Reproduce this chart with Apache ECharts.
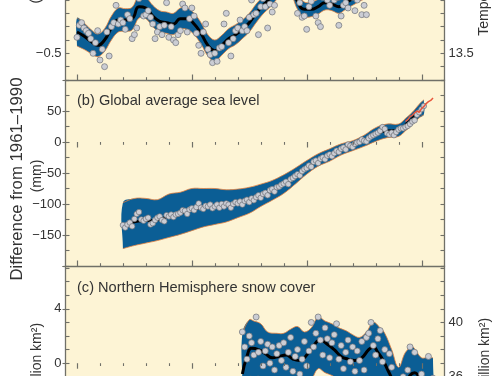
<!DOCTYPE html>
<html>
<head>
<meta charset="utf-8">
<script src="https://cdn.jsdelivr.net/npm/echarts@6/dist/echarts.min.js"></script>
<style>
html, body { margin: 0; padding: 0; background: #fff; }
#chart { width: 500px; height: 376px; }
</style>
</head>
<body>
<div id="chart"></div>
<script>
// (a) global mean temperature, difference from 1961-1990 (°C), annual from 1850
var tempFirstYear = 1850;
var tempValues = [
  -0.38,-0.29,-0.27,-0.31,-0.33,-0.35,-0.39,-0.50,-0.42,-0.33,
  -0.55,-0.47,-0.60,-0.34,-0.52,-0.30,-0.27,-0.14,-0.28,-0.25,
  -0.27,-0.32,-0.21,-0.24,-0.39,-0.36,-0.31,-0.09,-0.03,-0.22,
  -0.21,-0.18,-0.23,-0.28,-0.39,-0.34,-0.30,-0.36,-0.29,-0.12,
  -0.38,-0.30,-0.40,-0.42,-0.36,-0.33,-0.13,-0.16,-0.34,-0.24,
  -0.16,-0.22,-0.35,-0.44,-0.50,-0.34,-0.28,-0.47,-0.51,-0.57,
  -0.50,-0.56,-0.46,-0.45,-0.28,-0.20,-0.42,-0.52,-0.39,-0.33,
  -0.31,-0.25,-0.33,-0.30,-0.33,-0.23,-0.10,-0.21,-0.20,-0.36,
  -0.15,-0.09,-0.15,-0.31,-0.13,-0.19,-0.14,-0.03,0.00,-0.04,
  0.02,0.05,-0.02,0.00,0.08,-0.04,-0.20,-0.12,-0.23,-0.22,
  -0.32,-0.15,-0.11,-0.05,-0.22,-0.27,-0.30,-0.08,-0.04,-0.10,
  -0.14,-0.06,-0.10,-0.08,-0.29,-0.22,-0.14,-0.12,-0.16,-0.03,
  -0.08,-0.18,-0.10,0.02,-0.21,-0.14,-0.21,0.05,-0.03,0.06,
  0.14,0.20,0.04,0.22,0.05,0.02,0.08,0.23,0.28,0.16,
  0.33,0.29,0.12,0.13,0.21,0.33,0.22,0.36,0.53,0.28,
  0.28,0.43,0.50,0.50,0.44,0.55
];
// decadal smoothed curve and its uncertainty half-width
var tempSmoothYears = [1850,1853,1856,1859,1862,1865,1868,1871,1874,1877,1880,1883,1886,1889,1892,1895,1898,
  1901,1904,1907,1910,1913,1916,1919,1922,1925,1928,1931,1934,1937,1940,1943,1946,1949,1952,1955,1958,
  1961,1964,1967,1970,1973,1976,1979,1982,1985,1988,1991,1994,1997,2000,2003,2005];
var tempSmooth = [-0.34,-0.37,-0.41,-0.44,-0.40,-0.31,-0.25,-0.25,-0.24,-0.15,-0.16,-0.22,-0.26,-0.27,-0.28,-0.24,-0.24,
  -0.28,-0.35,-0.44,-0.48,-0.44,-0.39,-0.36,-0.32,-0.27,-0.20,-0.14,-0.09,-0.03,0.02,0.01,-0.11,-0.17,-0.17,-0.15,-0.12,
  -0.13,-0.15,-0.12,-0.09,-0.06,-0.03,0.05,0.12,0.16,0.22,0.27,0.30,0.37,0.42,0.48,0.52];
var tempHalf = [0.105,0.10,0.09,0.085,0.085,0.09,0.09,0.085,0.085,0.085,0.08,0.08,0.08,0.08,0.08,0.08,0.08,
  0.08,0.08,0.08,0.08,0.075,0.075,0.075,0.07,0.07,0.07,0.065,0.065,0.065,0.065,0.065,0.06,0.055,0.055,0.055,0.055,
  0.05,0.05,0.05,0.05,0.05,0.05,0.05,0.05,0.05,0.05,0.05,0.05,0.05,0.05,0.05,0.05];

// (b) global average sea level, difference from 1961-1990 (mm), annual from 1870
var seaFirstYear = 1870;
var seaValues = [
  -134,-138,-133,-130,-136,-124,-116,-113,-125,-127,
  -124,-122,-133,-131,-126,-122,-120,-126,-128,-118,
  -120,-117,-121,-117,-116,-114,-110,-111,-116,-109,
  -107,-110,-105,-99,-106,-108,-103,-104,-101,-107,
  -104,-101,-106,-100,-104,-99,-101,-106,-100,-97,
  -99,-96,-101,-95,-93,-97,-91,-94,-89,-86,
  -90,-84,-82,-86,-78,-76,-80,-73,-72,-69,
  -67,-64,-68,-60,-58,-55,-52,-54,-47,-44,
  -42,-38,-40,-32,-30,-34,-27,-25,-28,-22,
  -20,-23,-18,-14,-16,-11,-9,-12,-4,-6,
  -8,-3,-1,0,4,2,1,6,9,11,
  13,15,18,24,21,14,12,15,11,16,
  20,22,22,24,26,29,33,35,44,48,
  53,58
];
var seaSmoothYears = [1870,1875,1880,1885,1890,1895,1900,1905,1910,1915,1920,1925,1930,1935,1940,1945,
  1950,1955,1960,1965,1970,1975,1980,1985,1990,1993,1996,1999,2001];
var seaSmooth = [-135,-129,-127,-126,-119,-115,-109,-106,-104,-103,-99,-94,-86,-78,-68,-55,
  -41,-29,-21,-12,-6,2,12,18,19,28,38,50,56];
var seaHalf = [37,38,36,33,35,34,34,31,29,26,23,21,18,16,15,13,
  11,10,10,9,8,9,11,11,10,10,10,11,12];
// satellite altimetry
var satYears = [1993,1994,1995,1996,1997,1998,1999,2000,2001,2002,2003,2004,2005];
var satValues = [33,36,41,43,47,50,48,54,57,62,65,67,71];

// (c) NH snow cover, difference from 1961-1990 (million km2), annual from 1922
var snowFirstYear = 1922;
var snowValues = [
  2.3,1.2,0.3,2.0,1.5,0.6,3.4,0.8,
  1.6,-0.2,0.9,1.4,0.0,1.2,-0.5,0.7,1.3,0.2,
  1.5,-0.3,0.8,1.9,-0.6,0.5,1.0,-0.8,0.3,1.6,
  -0.2,0.9,3.0,1.2,2.2,3.4,1.7,0.6,2.6,1.8,
  0.4,1.5,2.1,2.9,0.3,1.3,-0.4,0.8,1.7,0.1,
  1.2,-0.6,0.9,0.2,1.6,-0.5,1.9,2.2,3.0,1.3,
  0.6,1.8,2.4,0.1,1.0,-1.2,0.7,-0.3,-1.9,-2.6,
  -1.4,-2.8,-1.0,-2.2,-0.5,1.2,-1.7,0.8,-2.4,-1.3,
  -0.8,-2.0,-1.6,0.5,-2.3,-1.1
];
var snowSmoothYears = [1922,1924,1926,1929,1932,1935,1938,1941,1944,1947,1950,1953,1956,1959,1962,1965,1968,
  1971,1974,1977,1979,1981,1983,1985,1987,1989,1991,1993,1995,1997,1999,2001,2003,2005];
var snowSmooth = [-0.8,0.5,1.1,1.0,0.7,0.4,0.5,0.6,0.3,0.2,0.6,1.3,1.7,1.4,1.0,0.5,0.3,
  0.2,0.4,1.0,1.2,0.8,0.3,-0.4,-1.1,-1.9,-2.1,-1.6,-0.9,-0.7,-1.0,-1.4,-1.5,-1.5];
var snowBandYears = [1922,1925,1927,1930,1933,1937,1940,1943,1946,1949,1952,1955,1958,1961,1964,1967,1970,
  1973,1976,1979,1982,1984,1987,1990,1993,1996,1998,2000,2002,2005];
var snowBandHi = [2.2,3.2,3.1,2.9,2.3,2.2,2.2,2.5,2.7,2.3,2.6,3.4,3.1,2.9,2.6,2.4,2.1,
  1.9,2.3,3.0,2.6,2.2,1.0,-0.3,0.8,1.2,0.8,0.4,0.4,0.4];
var snowBandLo = [-1.6,-1.0,-1.0,-1.0,-1.5,-1.6,-1.6,-1.3,-1.1,-1.5,-1.2,-0.4,-0.7,-0.9,-1.2,-1.4,-1.7,
  -1.9,-1.5,-1.0,-1.2,-1.6,-2.8,-4.1,-3.0,-2.6,-3.0,-3.4,-3.4,-3.4];

var bgColor = '#fdf4d5';
var bandColor = '#0b5e95';
var edgeColor = '#e3803f';
var frameColor = '#707068';
var textColor = '#333333';
var dotFill = '#cbcdd4';
var dotLine = '#6e7179';
var fontFamily = "'Liberation Sans', Arial, Helvetica, sans-serif";
var BAND_SMOOTH = 0.4;

function pairs(xs, ys) {
  return xs.map(function (x, i) { return [x, ys[i]]; });
}
function annual(first, vals) {
  return vals.map(function (v, i) { return [first + i, v]; });
}
function minus(s) { return String(s).replace('-', '\u2212'); }
function isMult(v, m) { var q = v / m; return Math.abs(q - Math.round(q)) < 1e-6; }

var gridBase = { left: 65.5, right: 55.5, show: true, backgroundColor: bgColor, borderWidth: 0,
  containLabel: false, outerBoundsMode: 'none' };
var tickBase = { left: 77, width: 345, show: false, containLabel: false, outerBoundsMode: 'none' };
var panelTops = [-80, 80, 266];
var panelHeights = [160, 186, 151.6];

var grids = [];
panelTops.forEach(function (t, i) {
  grids.push(Object.assign({}, gridBase, { top: t, height: panelHeights[i] }));
});
panelTops.forEach(function (t, i) {
  grids.push(Object.assign({}, tickBase, { top: t, height: panelHeights[i] }));
});

function mainX(g, showLine) {
  return { type: 'value', gridIndex: g, min: 1845, max: 2010, position: 'bottom', z: 5,
    axisLine: { show: showLine, onZero: false, lineStyle: { color: frameColor, width: 1.3 } },
    axisTick: { show: false }, axisLabel: { show: false }, splitLine: { show: false } };
}
function tickX(g, pos) {
  return { type: 'value', gridIndex: g, min: 1850, max: 2000, interval: 50, position: pos, z: 6,
    axisLine: { show: false },
    axisTick: { show: true, inside: true, length: 5.5, lineStyle: { color: frameColor, width: 1.2 } },
    minorTick: { show: true, splitNumber: 5, length: 2.8, lineStyle: { color: frameColor, width: 1.1 } },
    axisLabel: { show: false }, splitLine: { show: false } };
}
function yAx(g, pos, min, max, step, fmt) {
  return { type: 'value', gridIndex: g, position: pos, min: min, max: max, interval: step, z: 5,
    axisLine: { show: true, onZero: false, lineStyle: { color: frameColor, width: 1.3 } },
    axisTick: { show: true, inside: true, length: 4, lineStyle: { color: frameColor, width: 1.1 } },
    axisLabel: { show: !!fmt, formatter: fmt || '', margin: 4, fontSize: 13, color: textColor, fontFamily: fontFamily },
    splitLine: { show: false } };
}
// outward half of the labelled ticks on the left axes (tick grids sit 11.5px right of the frame)
function outY(g, min, max, step) {
  return { type: 'value', gridIndex: g, position: 'left', offset: 11.5, min: min, max: max, interval: step, z: 5,
    axisLine: { show: false },
    axisTick: { show: true, inside: false, length: 3, lineStyle: { color: frameColor, width: 1.1 } },
    axisLabel: { show: false }, splitLine: { show: false } };
}

var xAxes = [
  mainX(0, true), mainX(1, true), mainX(2, false),
  tickX(3, 'bottom'), tickX(4, 'top'), tickX(4, 'bottom'), tickX(5, 'top')
];
var yAxes = [
  yAx(0, 'left', -0.7, 0.5, 0.1, function (v) { return isMult(v, 0.5) ? minus(v.toFixed(1)) : ''; }),
  yAx(0, 'right', 13.3, 14.5, 0.1, function (v) { return isMult(v, 0.5) ? v.toFixed(1) : ''; }),
  yAx(1, 'left', -200, 100, 25, function (v) { return (isMult(v, 50) && v < 100 && v > -200) ? minus(v) : ''; }),
  yAx(1, 'right', -200, 100, 25, null),
  yAx(2, 'left', -4, 7.15, 1, function (v) { return isMult(v, 4) ? minus(Math.round(v)) : ''; }),
  yAx(2, 'right', 33, 44.15, 1, function (v) { return (isMult(v, 4) && v < 44) ? String(Math.round(v)) : ''; }),
  { type: 'value', gridIndex: 3, min: 0, max: 1, show: false },
  outY(4, -200, 100, 50),
  outY(5, -4, 7.15, 4)
];

// uncertainty band: smoothed polygon between lower and upper edges, with thin orange rims
function bandSeries(xi, yi, years, lo, hi) {
  var rows = years.map(function (y, i) { return [y, lo[i], hi[i]]; });
  return {
    type: 'custom', xAxisIndex: xi, yAxisIndex: yi, z: 1, silent: true,
    data: rows, encode: { x: 0, y: [1, 2] },
    renderItem: function (params, api) {
      if (params.dataIndex !== 0) return null;
      var upper = rows.map(function (r) { return api.coord([r[0], r[2]]); });
      var lower = rows.map(function (r) { return api.coord([r[0], r[1]]); });
      var back = lower.slice().reverse();
      // repeat the corner points so the ends stay square
      var ring = upper.concat([upper[upper.length - 1]], back, [back[back.length - 1]]);
      return {
        type: 'group',
        children: [
          { type: 'polygon', shape: { points: ring, smooth: BAND_SMOOTH }, style: { fill: bandColor } },
          { type: 'polyline', shape: { points: upper, smooth: BAND_SMOOTH }, style: { stroke: edgeColor, lineWidth: 0.8, fill: null } },
          { type: 'polyline', shape: { points: lower, smooth: BAND_SMOOTH }, style: { stroke: edgeColor, lineWidth: 0.8, fill: null } }
        ]
      };
    }
  };
}
function smoothSeries(xi, yi, years, vals, w) {
  return { type: 'line', xAxisIndex: xi, yAxisIndex: yi, symbol: 'none', smooth: true, z: 3, silent: true,
    data: pairs(years, vals), lineStyle: { color: '#000', width: w } };
}
function dotSeries(xi, yi, data, size) {
  return { type: 'scatter', xAxisIndex: xi, yAxisIndex: yi, symbol: 'circle', symbolSize: size, z: 4, silent: true,
    data: data, itemStyle: { color: dotFill, borderColor: dotLine, borderWidth: 0.7, opacity: 1 } };
}

var tempLo = tempSmooth.map(function (v, i) { return v - tempHalf[i]; });
var tempHi = tempSmooth.map(function (v, i) { return v + tempHalf[i]; });
var seaLo = seaSmooth.map(function (v, i) { return v - seaHalf[i]; });
var seaHi = seaSmooth.map(function (v, i) { return v + seaHalf[i]; });

var series = [
  bandSeries(0, 0, tempSmoothYears, tempLo, tempHi),
  smoothSeries(0, 0, tempSmoothYears, tempSmooth, 3),
  dotSeries(0, 0, annual(tempFirstYear, tempValues), 6),
  bandSeries(1, 2, seaSmoothYears, seaLo, seaHi),
  smoothSeries(1, 2, seaSmoothYears, seaSmooth, 2.5),
  dotSeries(1, 2, annual(seaFirstYear, seaValues), 5.5),
  { type: 'line', xAxisIndex: 1, yAxisIndex: 2, symbol: 'none', z: 5, silent: true,
    data: pairs(satYears, satValues), lineStyle: { color: '#e8563c', width: 1.5 } },
  bandSeries(2, 4, snowBandYears, snowBandLo, snowBandHi),
  smoothSeries(2, 4, snowSmoothYears, snowSmooth, 3),
  dotSeries(2, 4, annual(snowFirstYear, snowValues), 6)
];

function label(text, x, y, size, rotate) {
  return { type: 'text', x: x, y: y, rotation: rotate ? Math.PI / 2 : 0, z: 10, silent: true,
    style: { text: text, font: size + 'px ' + fontFamily, fill: textColor,
      textAlign: rotate ? 'center' : 'left', align: rotate ? 'center' : 'left',
      textVerticalAlign: 'middle', verticalAlign: 'middle' } };
}

var chart = echarts.init(document.getElementById('chart'));
chart.setOption({
  animation: false,
  backgroundColor: '#ffffff',
  grid: grids,
  xAxis: xAxes,
  yAxis: yAxes,
  series: series,
  graphic: [
    label('(b) Global average sea level', 77, 101, 14.6, false),
    label('(c) Northern Hemisphere snow cover', 77, 288, 14.6, false),
    label('Difference from 1961\u20131990', 17, 179, 16.8, true),
    label('(\u00b0C)', 36, -9, 14, true),
    label('(mm)', 37, 176, 14, true),
    label('(million km\u00b2)', 37, 361, 14, true),
    label('Temperature (\u00b0C)', 484, -18, 14, true),
    label('(million km\u00b2)', 485, 356, 14, true)
  ]
});
</script>
</body>
</html>
